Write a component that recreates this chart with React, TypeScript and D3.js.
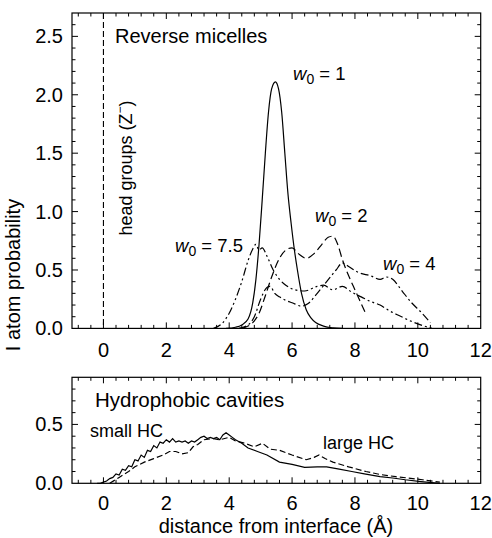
import React from "react";
import * as d3 from "d3";

// ---------- data ----------
const w1X = [3.9, 4.2, 4.4, 4.6, 4.75, 4.85, 4.95, 5.05, 5.15, 5.25, 5.35, 5.47, 5.57, 5.67, 5.77, 5.87, 5.97, 6.07, 6.17, 6.3, 6.45, 6.6, 6.75, 7.0, 7.3, 7.6];
const w1Y = [0.0, 0.01, 0.03, 0.08, 0.22, 0.42, 0.72, 1.1, 1.5, 1.85, 2.05, 2.11, 2.05, 1.85, 1.5, 1.15, 0.9, 0.68, 0.5, 0.3, 0.16, 0.09, 0.05, 0.02, 0.005, 0.0];

const w2X = [4.4, 4.6, 4.75, 4.95, 5.15, 5.35, 5.6, 5.8, 6.0, 6.2, 6.45, 6.7, 6.95, 7.15, 7.3, 7.45, 7.6, 7.8, 7.95, 8.15, 8.32];
const w2Y = [0.0, 0.02, 0.05, 0.13, 0.28, 0.44, 0.6, 0.67, 0.69, 0.64, 0.6, 0.64, 0.72, 0.78, 0.79, 0.72, 0.59, 0.45, 0.36, 0.24, 0.14];

const w4X = [4.3, 4.6, 4.8, 5.0, 5.2, 5.3, 5.45, 5.6, 5.8, 6.0, 6.3, 6.5, 6.8, 7.1, 7.4, 7.6, 7.8, 8.1, 8.5, 8.8, 9.0, 9.2, 9.5, 9.8, 10.1, 10.4];
const w4Y = [0.0, 0.03, 0.1, 0.25, 0.35, 0.36, 0.3, 0.27, 0.24, 0.22, 0.19, 0.21, 0.3, 0.4, 0.5, 0.56, 0.53, 0.48, 0.45, 0.42, 0.44, 0.42, 0.32, 0.22, 0.14, 0.05];

const w75X = [3.5, 3.8, 4.0, 4.2, 4.4, 4.6, 4.75, 4.85, 4.95, 5.05, 5.2, 5.4, 5.6, 5.8, 6.1, 6.4, 6.8, 7.0, 7.3, 7.6, 7.9, 8.2, 8.5, 8.8, 9.1, 9.4, 9.8, 10.2, 10.5];
const w75Y = [0.0, 0.05, 0.13, 0.25, 0.4, 0.58, 0.68, 0.72, 0.67, 0.69, 0.62, 0.5, 0.42, 0.37, 0.33, 0.32, 0.36, 0.37, 0.33, 0.36, 0.31, 0.27, 0.23, 0.2, 0.15, 0.11, 0.06, 0.02, 0.0];

const smallX = [-0.2, -0.1, 0.0, 0.1, 0.2, 0.3, 0.4, 0.5, 0.6, 0.7, 0.8, 0.9, 1.0, 1.1, 1.2, 1.3, 1.4, 1.5, 1.6, 1.7, 1.8, 1.9, 2.0, 2.1, 2.2, 2.3, 2.4, 2.5, 2.6, 2.7, 2.8, 2.9, 3.0, 3.1, 3.2, 3.3, 3.4, 3.5, 3.6, 3.7, 3.8, 3.9, 4.0, 4.1, 4.2, 4.4, 4.6, 4.9, 5.2, 5.6, 6.0, 6.4, 6.8, 7.1, 7.5, 7.9, 8.3, 8.8, 9.2, 9.6, 10.1, 10.7];
const smallY = [0.0, 0.0, 0.01, 0.02, 0.04, 0.05, 0.08, 0.07, 0.12, 0.11, 0.15, 0.14, 0.2, 0.19, 0.24, 0.22, 0.28, 0.27, 0.32, 0.3, 0.35, 0.34, 0.37, 0.35, 0.38, 0.35, 0.36, 0.35, 0.36, 0.34, 0.36, 0.35, 0.37, 0.39, 0.4, 0.38, 0.39, 0.38, 0.39, 0.37, 0.41, 0.43, 0.41, 0.39, 0.37, 0.34, 0.3, 0.27, 0.24, 0.18, 0.16, 0.135, 0.14, 0.14, 0.12, 0.1, 0.08, 0.056, 0.045, 0.03, 0.015, 0.0];

const largeX = [0.2, 0.5, 0.8, 1.0, 1.3, 1.6, 1.9, 2.1, 2.3, 2.5, 2.7, 2.85, 3.0, 3.2, 3.5, 3.7, 4.0, 4.2, 4.5, 4.8, 5.06, 5.3, 5.6, 6.0, 6.45, 6.7, 6.86, 7.05, 7.3, 7.8, 8.35, 8.8, 9.3, 9.7, 10.15, 10.7];
const largeY = [0.0, 0.05, 0.1, 0.14, 0.18, 0.21, 0.24, 0.27, 0.27, 0.25, 0.26, 0.31, 0.33, 0.37, 0.38, 0.37, 0.39, 0.36, 0.34, 0.31, 0.34, 0.29, 0.28, 0.24, 0.2, 0.22, 0.24, 0.21, 0.18, 0.14, 0.1, 0.075, 0.056, 0.045, 0.03, 0.01];

const xMajorTicks = [0, 2, 4, 6, 8, 10, 12];
const topYTicks = ["0.0", "0.5", "1.0", "1.5", "2.0", "2.5"];
const bottomYTicks = ["0.0", "0.5"];

// ---------- layout ----------
const W = 492;
const H = 538;
const left = 72;
const right = 480.7;
const topPanel = { y0: 13, y1: 328.4, max: 2.7 };
const botPanel = { y0: 377.3, y1: 483.3, max: 0.9 };
const font = "'Liberation Sans', Arial, Helvetica, sans-serif";

const x = d3.scaleLinear().domain([-1, 12]).range([left, right]);

function zip(xs: number[], ys: number[]): [number, number][] {
  return xs.map((v, i) => [v, ys[i]] as [number, number]);
}

function Frame({ y, y0, y1, max }: { y: d3.ScaleLinear<number, number>; y0: number; y1: number; max: number }) {
  const xMinor = d3.range(-2, 31).map((i) => ({ v: +(i * 0.4).toFixed(2), major: i % 5 === 0 }));
  const n = Math.round(max * 10);
  const yMinor = d3.range(0, n + 1).map((i) => ({ v: i / 10, major: i % 5 === 0 }));
  const maj = 6;
  const min = 3.5;
  return (
    <g stroke="#000" strokeWidth={1}>
      <rect x={left} y={y0} width={right - left} height={y1 - y0} fill="none" strokeWidth={1.2} />
      {xMinor.map((t, i) => {
        const px = x(t.v);
        if (px <= left + 0.5 || px >= right - 0.5) return null;
        const L = t.major ? maj : min;
        return (
          <g key={"x" + i}>
            <line x1={px} x2={px} y1={y1} y2={y1 - L} />
            <line x1={px} x2={px} y1={y0} y2={y0 + L} />
          </g>
        );
      })}
      {yMinor.map((t, i) => {
        const py = y(t.v);
        if (py >= y1 - 0.5 || py <= y0 + 0.5) return null;
        const L = t.major ? maj : min;
        return (
          <g key={"y" + i}>
            <line x1={left} x2={left + L} y1={py} y2={py} />
            <line x1={right} x2={right - L} y1={py} y2={py} />
          </g>
        );
      })}
    </g>
  );
}

function W0Label({ px, py, val }: { px: number; py: number; val: string }) {
  return (
    <text x={px} y={py} fontSize={18.5} fontFamily={font}>
      <tspan fontStyle="italic">w</tspan>
      <tspan fontSize={14} dy={4}>0</tspan>
      <tspan dy={-4}>{" = " + val}</tspan>
    </text>
  );
}

export default function App() {
  const yTop = d3.scaleLinear().domain([0, topPanel.max]).range([topPanel.y1, topPanel.y0]);
  const yBot = d3.scaleLinear().domain([0, botPanel.max]).range([botPanel.y1, botPanel.y0]);
  const lineTop = d3.line<[number, number]>().x((d) => x(d[0])).y((d) => yTop(d[1])).curve(d3.curveMonotoneX);
  const lineBot = d3.line<[number, number]>().x((d) => x(d[0])).y((d) => yBot(d[1]));

  return (
    <svg width={W} height={H} style={{ position: "absolute", left: 0, top: 0, background: "#fff" }}>
      <rect width={W} height={H} fill="#fff" />
      {/* top panel */}
      <Frame y={yTop} y0={topPanel.y0} y1={topPanel.y1} max={topPanel.max} />
      <line x1={x(0)} x2={x(0)} y1={topPanel.y0} y2={topPanel.y1} stroke="#000" strokeWidth={1.1} strokeDasharray="6,3" />
      <g fill="none" stroke="#000" strokeWidth={1.2}>
        <path d={lineTop(zip(w1X, w1Y)) || ""} />
        <path d={lineTop(zip(w2X, w2Y)) || ""} strokeDasharray="8,4" />
        <path d={lineTop(zip(w4X, w4Y)) || ""} strokeDasharray="8,3,2,3" />
        <path d={lineTop(zip(w75X, w75Y)) || ""} strokeDasharray="8,3,2,3,2,3" />
      </g>
      {topYTicks.map((t) => (
        <text key={t} x={63} y={yTop(+t) + 7} fontSize={20} textAnchor="end" fontFamily={font}>{t}</text>
      ))}
      {xMajorTicks.map((t) => (
        <text key={t} x={x(t)} y={357} fontSize={20} textAnchor="middle" fontFamily={font}>{t}</text>
      ))}
      <text x={115} y={43} fontSize={20} fontFamily={font}>Reverse micelles</text>
      <text transform="translate(132,168) rotate(-90)" fontSize={18} textAnchor="middle" fontFamily={font}>
        head groups (Z<tspan fontSize={12} dy={-8}>−</tspan><tspan dy={8}>)</tspan>
      </text>
      <W0Label px={293} py={80} val="1" />
      <W0Label px={315} py={222} val="2" />
      <W0Label px={383} py={270} val="4" />
      <W0Label px={175} py={252} val="7.5" />

      {/* bottom panel */}
      <Frame y={yBot} y0={botPanel.y0} y1={botPanel.y1} max={botPanel.max} />
      <g fill="none" stroke="#000" strokeWidth={1.2}>
        <path d={lineBot(zip(smallX, smallY)) || ""} />
        <path d={lineBot(zip(largeX, largeY)) || ""} strokeDasharray="6,3" />
      </g>
      {bottomYTicks.map((t) => (
        <text key={t} x={63} y={yBot(+t) + 7} fontSize={20} textAnchor="end" fontFamily={font}>{t}</text>
      ))}
      {xMajorTicks.map((t) => (
        <text key={"b" + t} x={x(t)} y={510} fontSize={20} textAnchor="middle" fontFamily={font}>{t}</text>
      ))}
      <text x={95} y={407} fontSize={20.5} fontFamily={font}>Hydrophobic cavities</text>
      <text x={90} y={437} fontSize={18} fontFamily={font}>small HC</text>
      <text x={323} y={449} fontSize={18} fontFamily={font}>large HC</text>

      {/* axis titles */}
      <text x={276} y={533} fontSize={20} textAnchor="middle" fontFamily={font}>distance from interface (Å)</text>
      <text transform="translate(20,275) rotate(-90)" fontSize={20} textAnchor="middle" fontFamily={font}>I atom probability</text>
    </svg>
  );
}
